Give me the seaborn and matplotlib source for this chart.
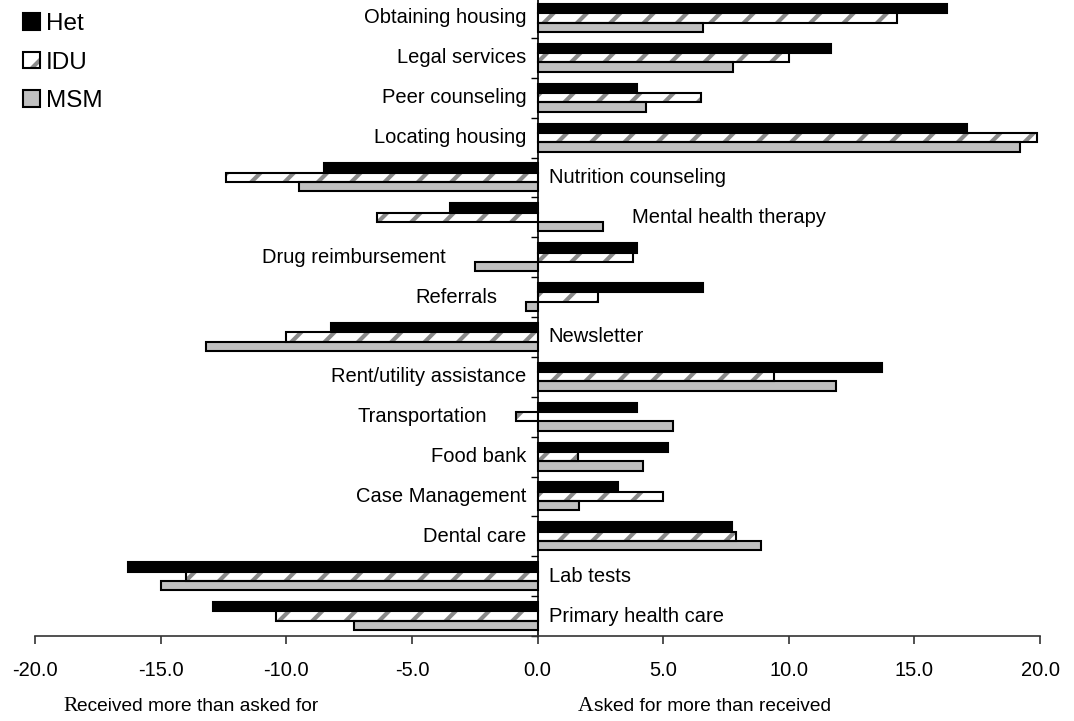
import numpy as np
import pandas as pd
import matplotlib
matplotlib.use("Agg")
import matplotlib.pyplot as plt
import seaborn as sns
from matplotlib.patches import Rectangle, Patch
from matplotlib.legend_handler import HandlerTuple

# ---------------- data ----------------
services = ["Obtaining housing", "Legal services", "Peer counseling", "Locating housing",
            "Nutrition counseling", "Mental health therapy", "Drug reimbursement", "Referrals",
            "Newsletter", "Rent/utility assistance", "Transportation", "Food bank",
            "Case Management", "Dental care", "Lab tests", "Primary health care"]
het = [16.3, 11.7, 3.95, 17.1, -8.5, -3.5, 3.95, 6.6, -8.2, 13.7, 3.95, 5.2, 3.2, 7.75, -16.3, -12.9]
idu = [14.3, 10.0, 6.5, 19.9, -12.4, -6.4, 3.8, 2.4, -10.0, 9.4, -0.85, 1.6, 5.0, 7.9, -14.0, -10.4]
msm = [6.6, 7.8, 4.3, 19.2, -9.5, 2.6, -2.5, -0.45, -13.2, 11.9, 5.4, 4.2, 1.65, 8.9, -15.0, -7.3]
groups = ["Het", "IDU", "MSM"]
xticks = [-20, -15, -10, -5, 0, 5, 10, 15, 20]
left_note = "Received more than asked for"
right_note = "Asked for more than received"

# ---------------- style ----------------
plt.rcParams["font.family"] = ["Liberation Sans", "DejaVu Sans"]
plt.rcParams["hatch.linewidth"] = 3.0
FS = 14.5
HATCH_COL = "#8a8a8a"

df = pd.DataFrame({
    "service": np.repeat(services, 3),
    "group": groups * len(services),
    "value": np.ravel(np.column_stack([het, idu, msm])),
})

W, H = 1074, 721
fig = plt.figure(figsize=(W / 100, H / 100), dpi=100)
ax = fig.add_axes([35 / W, 1 - 636 / H, 1005 / W, 638 / H])

palette = {"Het": "black", "IDU": "white", "MSM": "#c0c0c0"}
sns.barplot(data=df, x="value", y="service", hue="group", orient="h",
            palette=palette, saturation=1, width=0.7, errorbar=None,
            edgecolor="black", linewidth=1.5, legend=False, ax=ax)

# hatched IDU bars: gray stripes + black outline
for bar in ax.containers[1]:
    bar.set_hatch("/")
    bar.set_edgecolor(HATCH_COL)
    bar.set_linewidth(0)
    ax.add_patch(Rectangle(bar.get_xy(), bar.get_width(), bar.get_height(),
                           fill=False, edgecolor="black", linewidth=1.5, zorder=bar.get_zorder() + 0.1))

ax.set_xlim(-20, 20)
ax.set_ylim(len(services) - 0.5, -0.5)
ax.set_xticks(xticks)
ax.set_xticklabels([f"{v:.1f}" for v in xticks], fontsize=FS)
ax.set_yticks(np.arange(-0.5, len(services), 1))
ax.set_yticklabels([])
ax.set_xlabel("")
ax.set_ylabel("")
for s in ["top", "right"]:
    ax.spines[s].set_visible(False)
ax.spines["left"].set_position(("data", 0))
ax.spines["left"].set_linewidth(1.2)
ax.spines["bottom"].set_linewidth(1.2)
ax.spines["bottom"].set_color("#333333")
ax.tick_params(axis="x", length=6, width=1.2, pad=12, color="#333333")
ax.tick_params(axis="y", length=5, width=1.0, direction="out")

# category labels next to the zero line
for i, name in enumerate(services):
    vals = [het[i], idu[i], msm[i]]
    if sum(v > 0 for v in vals) >= 2:
        anchor = min(0, min(vals))
        pad = 0.45 if anchor == 0 else 1.15
        ax.text(anchor - pad, i, name, ha="right", va="center", fontsize=FS)
    else:
        anchor = max(0, max(vals))
        pad = 0.45 if anchor == 0 else 1.15
        ax.text(anchor + pad, i, name, ha="left", va="center", fontsize=FS)

# legend
h_het = Patch(facecolor="black", edgecolor="black", linewidth=1.5)
h_idu = (Patch(facecolor="white", edgecolor=HATCH_COL, hatch="/", linewidth=0),
         Patch(fill=False, edgecolor="black", linewidth=1.5))
h_msm = Patch(facecolor="#c0c0c0", edgecolor="black", linewidth=1.5)
ax.legend([h_het, h_idu, h_msm], groups,
          handler_map={tuple: HandlerTuple(ndivide=1, pad=0)},
          loc="upper left", bbox_to_anchor=(23 / W, 1 - 13 / H), bbox_transform=fig.transFigure,
          frameon=False, fontsize=17.5, handlelength=0.7, handleheight=0.65,
          handletextpad=0.25, labelspacing=0.68, borderpad=0, borderaxespad=0)

# bottom notes: first letter in serif, rest in sans
renderer = fig.canvas.get_renderer()
for x0, note in [(63, left_note), (578, right_note)]:
    t1 = fig.text(x0 / W, 1 - 711 / H, note[0], fontsize=15.5, va="baseline",
                  fontfamily="Liberation Serif")
    bb = t1.get_window_extent(renderer)
    fig.text(bb.x1 / W, 1 - 711 / H, note[1:], fontsize=13.8, va="baseline")

fig.savefig("out.png", dpi=100)
